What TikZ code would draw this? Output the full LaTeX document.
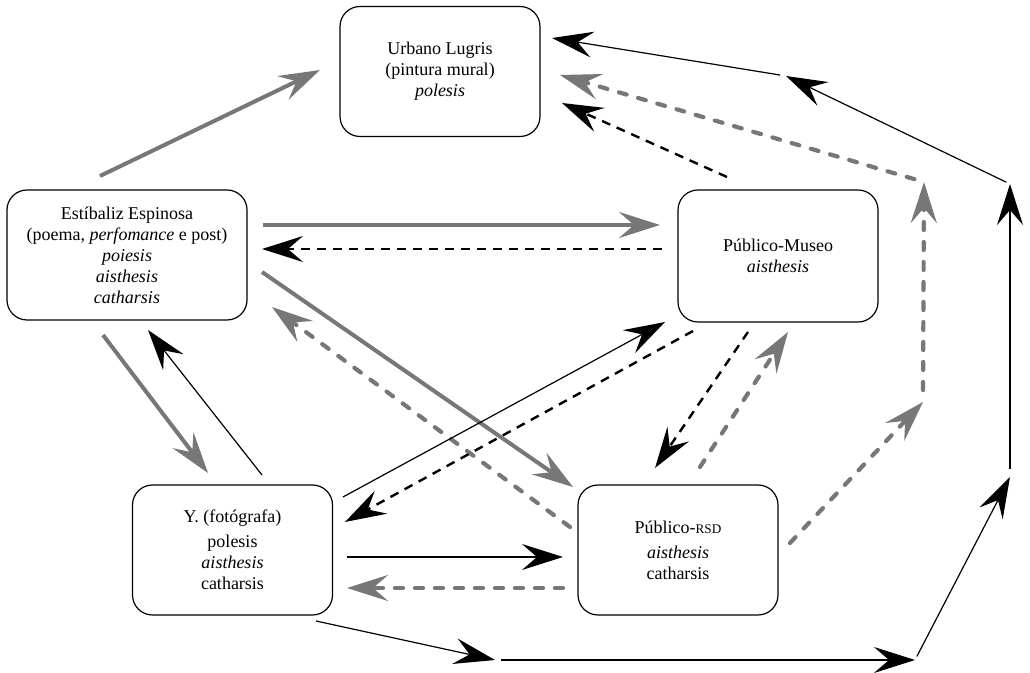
\documentclass[tikz,border=0pt]{standalone}
\usepackage{fontspec}
\setmainfont{Liberation Serif}
\usetikzlibrary{arrows.meta,calc,positioning}
\definecolor{arrgray}{RGB}{119,119,119}
\tikzset{
  box/.style={draw,line width=0.6pt,rounded corners=10pt,align=center,
    minimum width=100pt,minimum height=65pt,
    font=\fontsize{9}{10.5}\selectfont},
  tip/.style={-{Stealth[length=20.5pt,width=13pt,inset=7.5pt]}},
  gthick/.style={tip,draw=arrgray,line width=2pt},
  bthin/.style={tip,line width=0.6pt},
  bdash/.style={tip,line width=1.2pt,dash pattern=on 4.5pt off 3.5pt},
  gdash/.style={tip,draw=arrgray,line width=2.1pt,line cap=round,dash pattern=on 4pt off 6pt},
}
\newcommand{\rsdsc}{{\fontsize{6.6}{8}\selectfont RSD}}
\begin{document}
\begin{tikzpicture}[x=0.5pt,y=-0.5pt]
  \useasboundingbox (0,0) rectangle (1030,673);
  % nodes
  \node[box] (urb) at (440,71.5) {Urbano Lugris\\(pintura mural)\\\textit{polesis}};
  \node[box,minimum width=120pt] (est) at (127,255) {Estíbaliz Espinosa\\(poema, \textit{perfomance} e post)\\\textit{poiesis}\\\textit{aisthesis}\\\textit{catharsis}};
  \node[box,minimum height=66pt] (mus) at (778,256) {Público-Museo\\\textit{aisthesis}};
  \node[box] (yf) at (232.5,550) {Y. (fotógrafa)\\[2pt]polesis\\\textit{aisthesis}\\catharsis};
  \node[box] (rsd) at (678,550) {Público-\rsdsc\\[2pt]\textit{aisthesis}\\catharsis};
  % turning points of the outer paths
  \coordinate (b1) at (495,660);
  \coordinate (b2) at (915,660);
  \coordinate (b3) at (1010,477);
  \coordinate (b4) at (1010,184);
  \coordinate (b5) at (786,76);
  \coordinate (g1) at (923,402);
  \coordinate (g2) at (924,182);
  % Estibaliz
  \draw[gthick] ($(est)+(-27,-79)$) -- ($(urb)+(-120,-1.5)$);
  \draw[gthick] ($(est)+(136,-30)$) -- ($(mus)+(-118,-31)$);
  \draw[bdash] ($(mus)+(-116,-7)$) -- ($(est)+(135,-6)$);
  \draw[gthick] ($(est)+(135,17)$) -- ($(rsd)+(-105,-63)$);
  \draw[gdash] ($(rsd)+(-108,-23)$) -- ($(est)+(145,52)$);
  \draw[gthick] ($(est)+(-24,80)$) -- ($(yf)+(-24.5,-77)$);
  \draw[bthin] ($(yf)+(29.5,-75)$) -- ($(est)+(21,75)$);
  % Y. and the public
  \draw[bthin] ($(yf)+(110.5,-53)$) -- ($(mus)+(-113,66)$);
  \draw[bdash] ($(mus)+(-85,75)$) -- ($(yf)+(112.5,-28)$);
  \draw[bdash] ($(mus)+(-30,76)$) -- ($(rsd)+(-23,-82)$);
  \draw[gdash] ($(rsd)+(22,-83)$) -- ($(mus)+(10,76)$);
  \draw[bthin] ($(yf)+(114.5,7)$) -- ($(rsd)+(-115,7)$);
  \draw[gdash] ($(rsd)+(-115,38)$) -- ($(yf)+(114.5,38)$);
  % back to Urbano Lugris
  \draw[bdash] ($(mus)+(-51,-79)$) -- ($(urb)+(122,31.5)$);
  \draw[gdash] ($(rsd)+(112,-7)$) -- (g1);
  \draw[gdash,shorten <=6pt] (g1) -- (g2);
  \draw[gdash,shorten <=5pt] (g2) -- ($(urb)+(120,3.5)$);
  \draw[bthin] ($(yf)+(83.5,71)$) -- (b1);
  \draw[bthin,shorten <=3pt] (b1) -- (b2);
  \draw[bthin,shorten <=2pt] (b2) -- (b3);
  \draw[bthin,shorten <=4pt] (b3) -- (b4);
  \draw[bthin,shorten <=2pt] (b4) -- (b5);
  \draw[bthin,shorten <=3pt] (b5) -- ($(urb)+(112,-33.5)$);
\end{tikzpicture}
\end{document}
